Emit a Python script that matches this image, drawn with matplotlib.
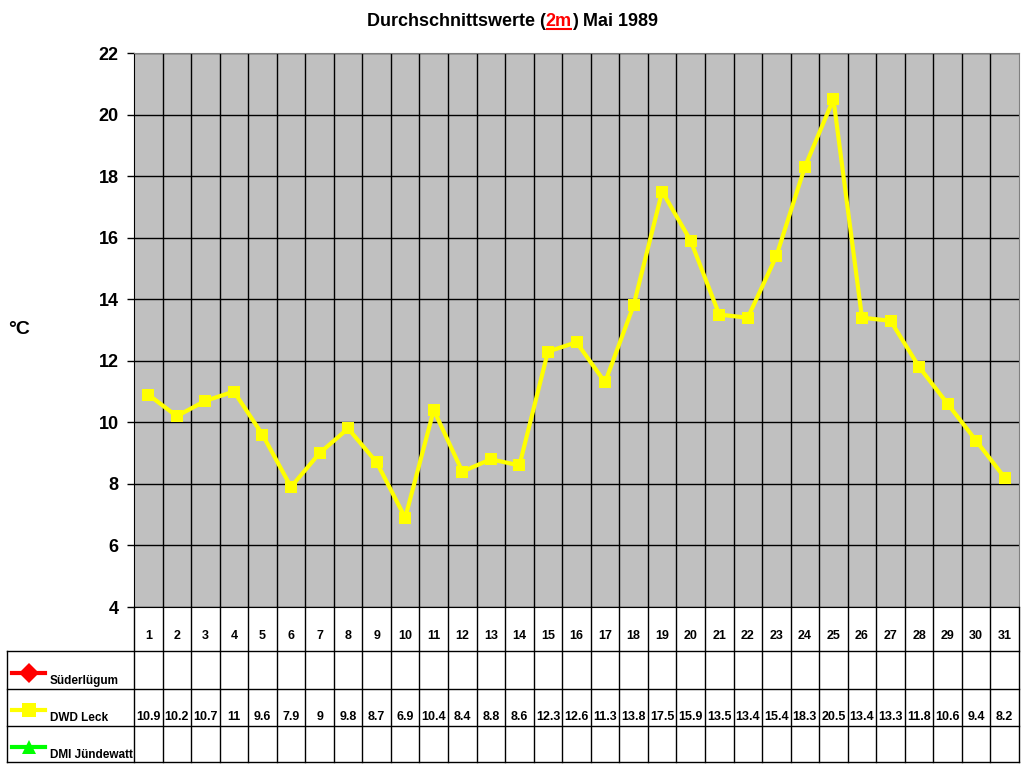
import matplotlib
matplotlib.use("Agg")
import matplotlib.pyplot as plt
from matplotlib.lines import Line2D
from matplotlib.transforms import IdentityTransform
import numpy as np

plt.rcParams['font.family'] = ['Liberation Sans', 'DejaVu Sans']
plt.rcParams['font.weight'] = 'bold'

# data
days = list(range(1, 32))
dwd_leck = [10.9, 10.2, 10.7, 11, 9.6, 7.9, 9, 9.8, 8.7, 6.9, 10.4, 8.4, 8.8, 8.6,
            12.3, 12.6, 11.3, 13.8, 17.5, 15.9, 13.5, 13.4, 15.4, 18.3, 20.5,
            13.4, 13.3, 11.8, 10.6, 9.4, 8.2]
series_names = ["Süderlügum", "DWD Leck", "DMI Jündewatt"]
series_colors = ["#FF0000", "#FFFF00", "#00FF00"]
series_markers = ["D", "s", "^"]
yticks = list(range(4, 23, 2))

W, H = 1024, 768
fig = plt.figure(figsize=(W / 100, H / 100), dpi=100)

# main plot area
ax = fig.add_axes([134 / W, 1 - 607 / H, 885 / W, 554 / H])
ax.set_facecolor("#C0C0C0")
ax.plot(days, dwd_leck, color="#FFFF00", lw=3, marker="s", markersize=9,
        markeredgewidth=0, zorder=3)
ax.set_xlim(0.5, 31.5)
ax.set_ylim(4, 22)
ax.set_yticks(yticks)
ax.set_xticks([])
ax.set_xticks(np.arange(1.5, 31, 1), minor=True)
ax.tick_params(axis="x", which="both", length=0, labelbottom=False)
ax.tick_params(axis="y", length=5, width=1, pad=6, labelsize=13)
ax.grid(axis="y", which="major", color="black", lw=1)
ax.grid(axis="x", which="minor", color="black", lw=1)
ax.set_axisbelow(True)
for s in ["top", "right"]:
    ax.spines[s].set_color("#808080")
for s in ["left", "bottom"]:
    ax.spines[s].set_color("black")

# data table below the plot
tax = fig.add_axes([134 / W, 6 / H, 885 / W, 155 / H])
tax.set_xlim(0.5, 31.5)
tax.set_ylim(155, 0)
tax.axis("off")


def px2x(p):
    return 0.5 + (p - 134) / 885 * 31


left = px2x(7)
for y in [44, 82, 119, 155]:
    tax.plot([left, 31.5], [y, y], color="black", lw=1, clip_on=False)
for b in np.arange(0.5, 32, 1):
    tax.plot([b, b], [0, 155], color="black", lw=1, clip_on=False)
tax.plot([left, left], [44, 155], color="black", lw=1, clip_on=False)

for d in days:
    tax.text(d, 29, str(d), ha="center", va="center", fontsize=9)
for d, v in zip(days, dwd_leck):
    tax.text(d, 110, f"{v:g}", ha="center", va="center", fontsize=9)

row_y = [66, 103, 140]
for name, c, m, y in zip(series_names, series_colors, series_markers, row_y):
    tax.plot([px2x(12), px2x(45)], [y, y], color=c, lw=3, clip_on=False)
    tax.plot([px2x(28.5)], [y], marker=m, color=c, markersize=10,
             markeredgewidth=0, clip_on=False)
    tax.text(px2x(50), y + 8, name, ha="left", va="center", fontsize=8.5)

# axis label
fig.text(19 / W, 1 - 330 / H, "°C", ha="center", va="center", fontsize=14)

# title with red underlined "2m"
base_y = 1 - 26 / H
t1 = fig.text(367 / W, base_y, "Durchschnittswerte (", fontsize=13,
              ha="left", va="baseline")
t2 = fig.text(0, 0, "2m", fontsize=13, color="#FF0000", va="baseline")
fig.canvas.draw()
r = fig.canvas.get_renderer()
b1 = t1.get_window_extent(r)
t2.set_position((b1.x1 / W, base_y))
fig.canvas.draw()
b2 = t2.get_window_extent(r)
t3 = fig.text(b2.x1 / W, base_y, ") Mai 1989", fontsize=13, va="baseline")
uy = H - 26 - 3
fig.add_artist(Line2D([b2.x0 + 1, b2.x1 - 1], [uy, uy], color="#FF0000", lw=1.5,
                      transform=IdentityTransform()))

fig.savefig("out.png", dpi=100)
